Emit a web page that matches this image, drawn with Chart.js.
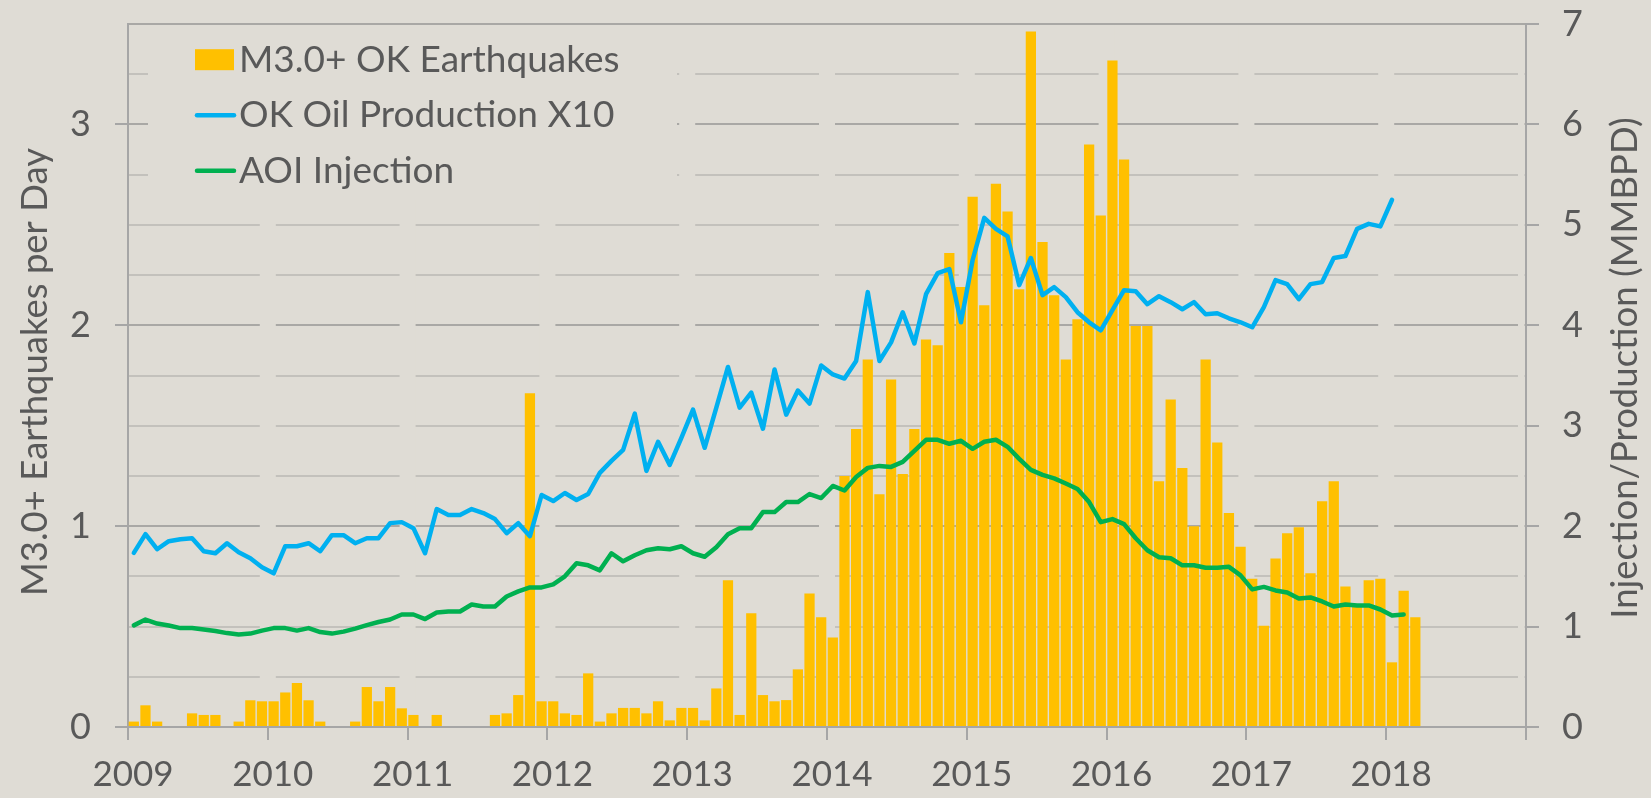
<!DOCTYPE html>
<html>
<head>
<meta charset="utf-8">
<title>OK Earthquakes vs Injection</title>
<script src="https://cdn.jsdelivr.net/npm/chart.js@4.4.1/dist/chart.umd.min.js"></script>
<style>
  html, body { margin: 0; padding: 0; background: #dfdcd5; }
  #wrap { width: 1651px; height: 798px; }
</style>
</head>
<body>
<div id="wrap"><canvas id="quakeChart" width="1651" height="798"></canvas></div>
<script>
// monthly series, first value = Jan 2009
const startYear = 2009;
const yearTicks = [2009, 2010, 2011, 2012, 2013, 2014, 2015, 2016, 2017, 2018];

const quakesPerDay = [
    0.027, 0.108, 0.027, 0, 0, 0.068, 0.06, 0.06, 0, 0.027, 0.133, 0.128,        // 2009
    0.128, 0.172, 0.219, 0.133, 0.027, 0, 0, 0.027, 0.199, 0.128, 0.199, 0.093,  // 2010
    0.06, 0, 0.06, 0, 0, 0, 0, 0.06, 0.068, 0.159, 1.662, 0.128,                 // 2011
    0.128, 0.068, 0.06, 0.267, 0.027, 0.068, 0.095, 0.095, 0.068, 0.128, 0.033, 0.095, // 2012
    0.095, 0.033, 0.192, 0.731, 0.06, 0.566, 0.159, 0.128, 0.134, 0.287, 0.665, 0.546, // 2013
    0.446, 1.25, 1.484, 1.83, 1.159, 1.73, 1.259, 1.484, 1.929, 1.90, 2.36, 2.19,      // 2014
    2.64, 2.10, 2.705, 2.566, 2.18, 3.463, 2.415, 2.15, 1.83, 2.03, 2.90, 2.547,       // 2015
    3.318, 2.826, 1.997, 1.997, 1.224, 1.63, 1.29, 1.0, 1.83, 1.416, 1.066, 0.897,     // 2016
    0.738, 0.504, 0.839, 0.965, 0.995, 0.766, 1.124, 1.224, 0.70, 0.607, 0.731, 0.738, // 2017
    0.322, 0.678, 0.546                                                                 // 2018
];

const oilProductionX10 = [
    1.734, 1.92, 1.77, 1.85, 1.87, 1.88, 1.75, 1.73, 1.83, 1.74, 1.68, 1.59,
    1.53, 1.80, 1.80, 1.83, 1.75, 1.91, 1.91, 1.83, 1.88, 1.88, 2.03, 2.04,
    1.98, 1.73, 2.17, 2.11, 2.11, 2.17, 2.13, 2.07, 1.93, 2.03, 1.90, 2.31,
    2.25, 2.33, 2.26, 2.32, 2.53, 2.65, 2.76, 3.12, 2.55, 2.84, 2.61, 2.88,
    3.16, 2.78, 3.18, 3.585, 3.18, 3.33, 2.97, 3.56, 3.11, 3.35, 3.22, 3.60,
    3.51, 3.47, 3.645, 4.33, 3.645, 3.83, 4.13, 3.82, 4.31, 4.52, 4.56, 4.03,
    4.65, 5.07, 4.96, 4.885, 4.40, 4.67, 4.30, 4.38, 4.28, 4.13, 4.03, 3.95,
    4.15, 4.35, 4.34, 4.21, 4.29, 4.23, 4.16, 4.23, 4.11, 4.12, 4.07, 4.03,
    3.98, 4.18, 4.45, 4.41, 4.26, 4.41, 4.43, 4.67, 4.69, 4.96, 5.01, 4.985,
    5.25
];

const aoiInjection = [
    1.012, 1.07, 1.03, 1.01, 0.985, 0.985, 0.97, 0.955, 0.935, 0.92, 0.93, 0.96,
    0.985, 0.985, 0.96, 0.985, 0.945, 0.93, 0.95, 0.98, 1.015, 1.045, 1.07, 1.12,
    1.12, 1.075, 1.14, 1.15, 1.15, 1.22, 1.20, 1.20, 1.30, 1.35, 1.39, 1.39,
    1.42, 1.50, 1.63, 1.61, 1.56, 1.73, 1.65, 1.71, 1.76, 1.78, 1.77, 1.80,
    1.73, 1.695, 1.79, 1.92, 1.98, 1.98, 2.14, 2.14, 2.24, 2.24, 2.32, 2.28,
    2.40, 2.355, 2.49, 2.58, 2.60, 2.59, 2.64, 2.75, 2.86, 2.86, 2.82, 2.85,
    2.77, 2.84, 2.86, 2.79, 2.67, 2.56, 2.51, 2.475, 2.425, 2.37, 2.24, 2.04,
    2.07, 2.02, 1.88, 1.76, 1.69, 1.68, 1.61, 1.61, 1.585, 1.585, 1.595, 1.51,
    1.37, 1.395, 1.36, 1.34, 1.28, 1.29, 1.25, 1.20, 1.22, 1.21, 1.21, 1.17,
    1.11, 1.12
];

const BG = '#dfdcd5';
const TEXT = '#595959';
const AXIS = '#a6a6a6';
const GRID_MAJOR = '#a9a8a5';
const GRID_MINOR = '#c3c1bc';
const FONT = 'Lato, "DejaVu Sans", sans-serif';

// month i sits in the middle of its month on a decimal-year axis
function toPoints(values) {
    return values.map((v, i) => ({ x: startYear + (i + 0.5) / 12, y: v }));
}

// fixed axis sizes so the plot area lands where the original one is
function fixWidth(w) {
    return function (scale) {
        scale.width = w;
        scale.paddingTop = 0;
        scale.paddingBottom = 0;
    };
}

// gaps in the horizontal grid at each year + panel behind the legend
const yearGaps = {
    id: 'yearGaps',
    beforeDatasetsDraw(chart) {
        const { ctx, chartArea: a, scales: { x } } = chart;
        ctx.save();
        ctx.beginPath();
        ctx.rect(a.left + 1.5, a.top + 1.5, a.right - a.left - 3, a.bottom - a.top - 3);
        ctx.clip();
        ctx.fillStyle = BG;
        for (let yr = startYear + 1; yr <= 2019; yr++) {
            const px = x.getPixelForValue(yr);
            ctx.fillRect(px - 8, a.top, 16, a.bottom - a.top);
        }
        ctx.fillRect(148, a.top, 529, 176);
        ctx.restore();
    }
};

const insideLegend = {
    id: 'insideLegend',
    afterDatasetsDraw(chart) {
        const ctx = chart.ctx;
        ctx.save();
        ctx.font = '37px ' + FONT;
        ctx.textBaseline = 'alphabetic';
        chart.data.datasets.forEach((ds, i) => {
            const base = 71.7 + i * 55.5;
            const mid = base - 12;
            if (ds.type === 'bar') {
                ctx.fillStyle = ds.backgroundColor;
                ctx.fillRect(195, mid - 10.5, 39, 21);
            } else {
                ctx.strokeStyle = ds.borderColor;
                ctx.lineWidth = 4.5;
                ctx.lineCap = 'round';
                ctx.beginPath();
                ctx.moveTo(197, mid);
                ctx.lineTo(234, mid);
                ctx.stroke();
            }
            ctx.fillStyle = TEXT;
            ctx.fillText(ds.label, 239, base);
        });
        ctx.restore();
    }
};

// both axis titles read bottom-to-top
const axisTitles = {
    id: 'axisTitles',
    afterDraw(chart) {
        const ctx = chart.ctx;
        ctx.save();
        ctx.font = '36.5px ' + FONT;
        ctx.fillStyle = TEXT;
        ctx.textAlign = 'center';
        ctx.textBaseline = 'alphabetic';
        [[46.5, 372, 'M3.0+ Earthquakes per Day'], [1637, 368, 'Injection/Production (MMBPD)']].forEach(([tx, ty, txt]) => {
            ctx.save();
            ctx.translate(tx, ty);
            ctx.rotate(-Math.PI / 2);
            ctx.fillText(txt, 0, 0);
            ctx.restore();
        });
        ctx.restore();
    }
};

Chart.defaults.font.family = FONT;
Chart.defaults.color = TEXT;

new Chart(document.getElementById('quakeChart'), {
    type: 'bar',
    data: {
        datasets: [{
            type: 'bar',
            label: 'M3.0+ OK Earthquakes',
            data: toPoints(quakesPerDay),
            backgroundColor: '#ffc000',
            borderWidth: 0,
            barPercentage: 0.88,
            categoryPercentage: 1,
            yAxisID: 'y',
            order: 3
        }, {
            type: 'line',
            label: 'OK Oil Production X10',
            data: toPoints(oilProductionX10),
            borderColor: '#00b0f0',
            borderWidth: 4.5,
            pointRadius: 0,
            tension: 0,
            borderJoinStyle: 'round',
            borderCapStyle: 'round',
            yAxisID: 'y1',
            order: 2
        }, {
            type: 'line',
            label: 'AOI Injection',
            data: toPoints(aoiInjection),
            borderColor: '#00b050',
            borderWidth: 4.5,
            pointRadius: 0,
            tension: 0,
            borderJoinStyle: 'round',
            borderCapStyle: 'round',
            yAxisID: 'y1',
            order: 1
        }]
    },
    options: {
        responsive: false,
        animation: false,
        layout: { padding: { top: 24, left: 0, right: 0, bottom: 0 } },
        plugins: {
            legend: { display: false },
            tooltip: { enabled: false }
        },
        scales: {
            y: {
                position: 'left',
                min: 0,
                max: 3.5,
                afterFit: fixWidth(128),
                ticks: {
                    stepSize: 0.25,
                    padding: 24,
                    font: { size: 36 },
                    callback: (v) => Number.isInteger(v) ? String(v) : ''
                },
                grid: {
                    lineWidth: 2,
                    tickLength: 13,
                    color: (c) => (Number.isInteger(c.tick.value) || c.tick.value === 3.5) ? GRID_MAJOR : GRID_MINOR,
                    tickColor: (c) => Number.isInteger(c.tick.value) ? AXIS : 'rgba(0,0,0,0)'
                },
                border: { color: AXIS, width: 2 }
            },
            y1: {
                position: 'right',
                min: 0,
                max: 7,
                afterFit: fixWidth(125),
                ticks: {
                    stepSize: 1,
                    padding: 23,
                    font: { size: 36 }
                },
                grid: {
                    drawOnChartArea: false,
                    lineWidth: 2,
                    tickLength: 13,
                    tickColor: AXIS
                },
                border: { color: AXIS, width: 2 }
            },
            x: {
                type: 'linear',
                position: 'bottom',
                min: 2009,
                max: 2019,
                offset: false,
                afterFit(scale) { scale.height = 71; },
                afterBuildTicks(scale) {
                    scale.ticks = yearTicks.concat([2019]).map(v => ({ value: v }));
                },
                ticks: {
                    padding: 14,
                    labelOffset: 5,
                    maxRotation: 0,
                    autoSkip: false,
                    font: { size: 35 },
                    callback: (v) => yearTicks.includes(v) ? String(v) : ''
                },
                grid: {
                    offset: false,
                    drawOnChartArea: false,
                    lineWidth: 2,
                    tickLength: 13,
                    tickColor: AXIS
                },
                border: { color: AXIS, width: 2 }
            }
        }
    },
    plugins: [yearGaps, insideLegend, axisTitles]
});
</script>
</body>
</html>
